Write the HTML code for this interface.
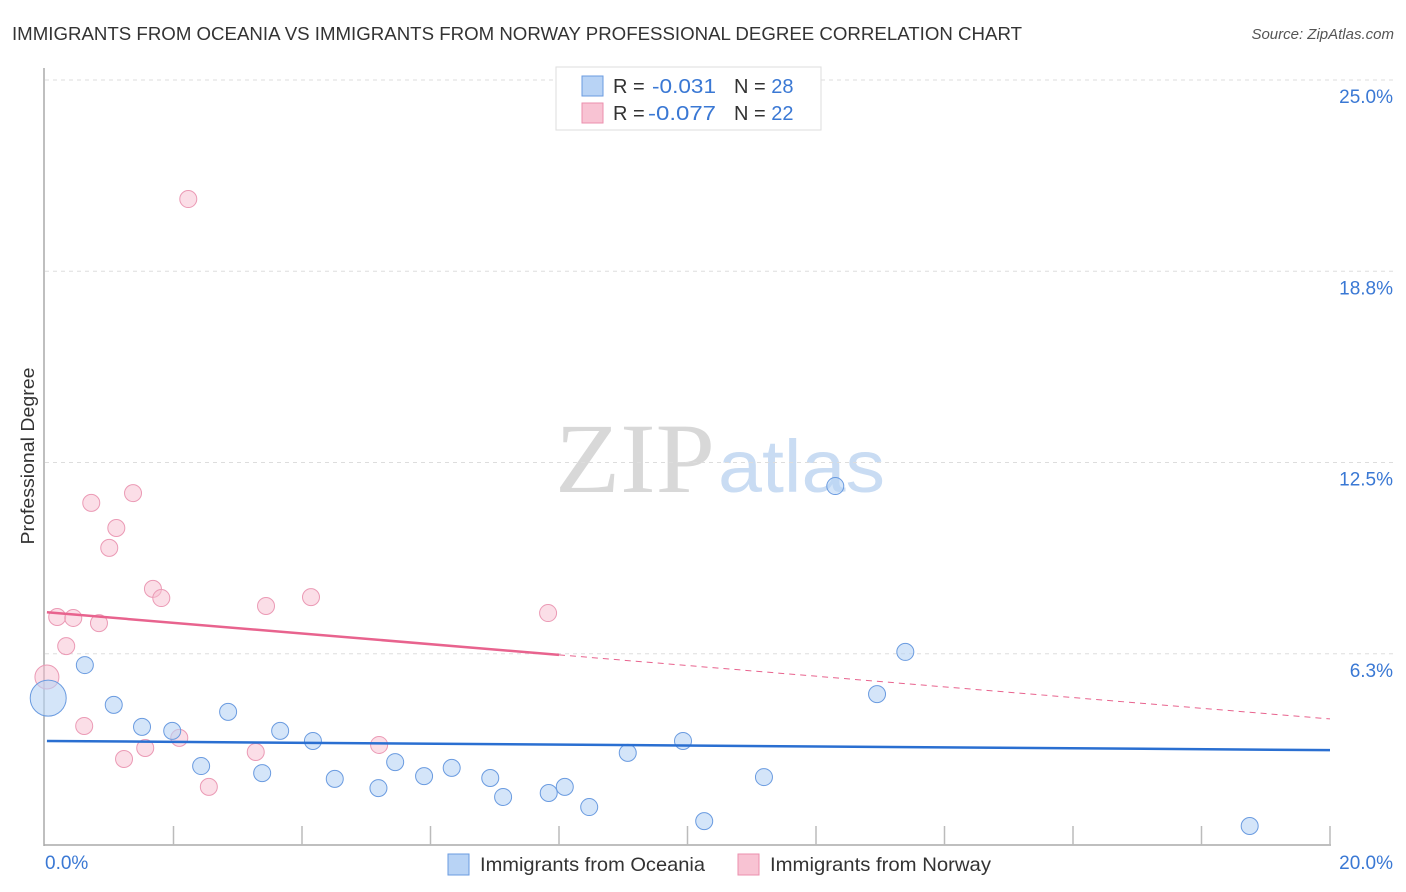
<!DOCTYPE html>
<html><head><meta charset="utf-8"><style>
body{margin:0;background:#fff;font-family:"Liberation Sans",sans-serif}
svg{display:block}
</style></head><body>
<svg width="1406" height="892">
<text x="12" y="40" font-size="18.5" fill="#333" textLength="1010" lengthAdjust="spacingAndGlyphs">IMMIGRANTS FROM OCEANIA VS IMMIGRANTS FROM NORWAY PROFESSIONAL DEGREE CORRELATION CHART</text>
<text x="1394" y="39" font-size="15" fill="#555" font-style="italic" text-anchor="end">Source: ZipAtlas.com</text>
<text x="555" y="492" font-size="100" fill="#d8d8d8" font-family="Liberation Serif,serif" textLength="160" lengthAdjust="spacingAndGlyphs">ZIP</text>
<text x="718" y="492" font-size="74" fill="#c9dcf3" textLength="167" lengthAdjust="spacingAndGlyphs">atlas</text>
<text transform="translate(34,456) rotate(-90)" font-size="18" fill="#333" text-anchor="middle" textLength="177" lengthAdjust="spacingAndGlyphs">Professional Degree</text>
<g id="grid"></g><g id="axes"></g><g id="marks"></g>
<g>
<rect x="556" y="67" width="265" height="63" fill="#fff" stroke="#ddd"/>
<rect x="582" y="76" width="21" height="20" fill="#b8d3f5" stroke="#6a9be0"/>
<text x="613" y="93" font-size="20" fill="#333">R = </text>
<text x="652" y="93" font-size="20" fill="#3a78d4" textLength="64" lengthAdjust="spacingAndGlyphs">-0.031</text>
<text x="734" y="93" font-size="20" fill="#333">N = <tspan fill="#3a78d4">28</tspan></text>
<rect x="582" y="103" width="21" height="20" fill="#f8c3d3" stroke="#eb8fae"/>
<text x="613" y="120" font-size="20" fill="#333">R = </text>
<text x="648" y="120" font-size="20" fill="#3a78d4" textLength="68" lengthAdjust="spacingAndGlyphs">-0.077</text>
<text x="734" y="120" font-size="20" fill="#333">N = <tspan fill="#3a78d4">22</tspan></text>
</g>
<g>
<rect x="448" y="854" width="21" height="21" fill="#b8d3f5" stroke="#6a9be0"/>
<text x="480" y="871" font-size="19.5" fill="#333" textLength="225" lengthAdjust="spacingAndGlyphs">Immigrants from Oceania</text>
<rect x="738" y="854" width="21" height="21" fill="#f8c3d3" stroke="#eb8fae"/>
<text x="770" y="871" font-size="19.5" fill="#333" textLength="221" lengthAdjust="spacingAndGlyphs">Immigrants from Norway</text>
</g>
</svg>
<script>
const yTicks=[6.25,12.5,18.75,25];
const yTickLabels=["6.3%","12.5%","18.8%","25.0%"];
const xTickLabels=["0.0%","20.0%"];
const blueX=[0.05,0.62,1.07,1.51,1.98,2.43,2.85,3.38,3.66,4.17,4.51,5.19,5.45,5.90,6.33,6.93,7.13,7.84,8.09,8.47,9.07,9.93,10.26,11.19,12.30,12.95,13.39,18.75];
const blueY=[4.8,5.88,4.58,3.86,3.73,2.58,4.35,2.35,3.73,3.40,2.16,1.86,2.71,2.25,2.52,2.19,1.57,1.70,1.90,1.24,3.01,3.40,0.78,2.22,11.73,4.93,6.31,0.62];
const pinkX=[0.03,0.19,0.33,0.44,0.61,0.72,0.84,1.00,1.11,1.23,1.37,1.56,1.68,1.81,2.09,2.23,2.55,3.28,3.44,4.14,5.20,7.83];
const pinkY=[5.49,7.45,6.50,7.42,3.89,11.18,7.25,9.71,10.36,2.81,11.50,3.17,8.37,8.07,3.50,21.11,1.90,3.04,7.81,8.10,3.27,7.58];
const blueTrend=[3.40,3.10];
const pinkTrend=[7.61,4.12];
const NS="http://www.w3.org/2000/svg";
const X=v=>45+v*64.25, Y=v=>845-v*30.6;
function mk(t,a,p){const e=document.createElementNS(NS,t);for(const k in a)e.setAttribute(k,a[k]);p.appendChild(e);return e;}
const grid=document.getElementById('grid'),axes=document.getElementById('axes'),marks=document.getElementById('marks');
yTicks.forEach((t,i)=>{
 const l=mk('line',{x1:45,x2:1394,y1:Y(t),y2:Y(t),stroke:'#ddd','stroke-dasharray':'4,4'},grid);
 
 
 const tx=mk('text',{x:1393,y:Y(t)+23,'font-size':19,fill:'#3a78d4','text-anchor':'end'},axes);tx.textContent=yTickLabels[i];
 
 
});
mk('line',{x1:44,x2:44,y1:68,y2:846,stroke:'#aaa','stroke-width':1.5},axes);
mk('line',{x1:44,x2:1331,y1:845,y2:845,stroke:'#aaa','stroke-width':1.5},axes);
for(let i=1;i<=10;i++){mk('line',{x1:X(i*2),x2:X(i*2),y1:826,y2:845,stroke:'#bbb','stroke-width':1.5},axes);}
let t0=mk('text',{x:45,y:869,'font-size':19,fill:'#3a78d4'},axes);t0.textContent=xTickLabels[0];


let t1=mk('text',{x:1393,y:869,'font-size':19,fill:'#3a78d4','text-anchor':'end'},axes);t1.textContent=xTickLabels[1];


pinkX.forEach((x,i)=>{const c=mk('circle',{cx:X(x),cy:Y(pinkY[i]),r:i==0?12:8.5,fill:'rgba(248,190,208,0.5)',stroke:'#eb9ab5','stroke-width':1},marks);
 
 });
blueX.forEach((x,i)=>{const c=mk('circle',{cx:X(x),cy:Y(blueY[i]),r:i==0?18:8.5,fill:'rgba(184,211,245,0.6)',stroke:'#6a9be0','stroke-width':1},marks);
 
 });
const py=x=>pinkTrend[0]+(pinkTrend[1]-pinkTrend[0])*x/20;
let pl=mk('line',{x1:X(0.03),y1:Y(py(0.03)),x2:X(8),y2:Y(py(8)),stroke:'#e8638e','stroke-width':2.5},marks);


let pd=mk('line',{x1:X(8),y1:Y(py(8)),x2:X(20),y2:Y(py(20)),stroke:'#e8638e','stroke-width':1,'stroke-dasharray':'6,5'},marks);


let bl=mk('line',{x1:X(0.03),y1:Y(blueTrend[0]),x2:X(20),y2:Y(blueTrend[1]),stroke:'#2a6fd1','stroke-width':2.5},marks);


</script>
</body></html>
